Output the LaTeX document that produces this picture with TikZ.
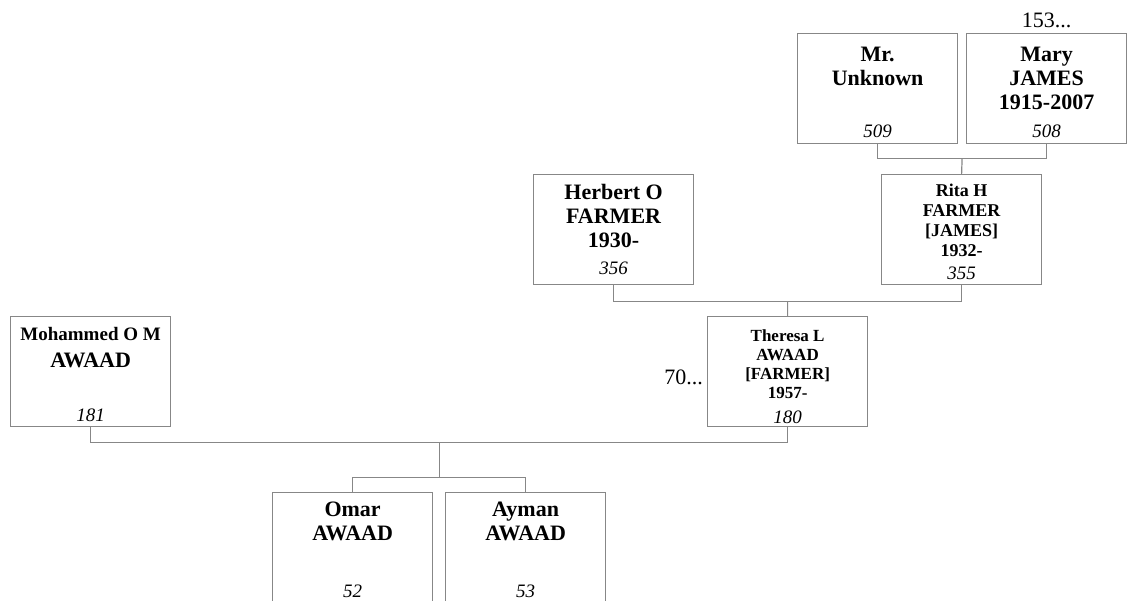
\documentclass[tikz,border=0pt]{standalone}
\usepackage{fontspec}
\setmainfont{Liberation Serif}
\usetikzlibrary{positioning, calc}
\definecolor{cLine}{RGB}{135,135,135}
\tikzset{
  personbox/.style={rectangle, draw=cLine, line width=1.2pt,
                    minimum width=160pt, minimum height=110pt,
                    anchor=north west, inner sep=0pt},
  namenode/.style={align=center, inner sep=0pt,
                   font=\bfseries\fontsize{22}{24}\selectfont},
  smallname/.style={namenode, font=\bfseries\fontsize{18}{20}\selectfont},
  tinyname/.style={namenode, font=\bfseries\fontsize{17}{19}\selectfont},
  idnode/.style={inner sep=0pt, font=\itshape\fontsize{19}{21}\selectfont},
  morenode/.style={inner sep=0pt, font=\fontsize{22}{24}\selectfont},
  link/.style={draw=cLine, line width=1.2pt}
}

\begin{document}
\begin{tikzpicture}[x=1pt, y=1pt]
  \useasboundingbox (0,0) rectangle (1132,-600);

  % Person boxes
  \node[personbox] (unknown) at (797,-33) {};
  \node[personbox] (mary)    at (966,-33) {};
  \node[personbox] (herbert) at (533,-174) {};
  \node[personbox] (rita)    at (881,-174) {};
  \node[personbox] (mohammed) at (10,-316) {};
  \node[personbox] (theresa) at (707,-316) {};
  \node[personbox] (omar)    at (272,-492) {};
  \node[personbox] (ayman)   at (445,-492) {};

  % Names
  \node[namenode, below=14pt of unknown.north] (unknownN) {Mr.\\Unknown};
  \node[namenode, below=14pt of mary.north] (maryN) {Mary\\JAMES\\1915-2007};
  \node[namenode, below=10pt of herbert.north] (herbertN) {Herbert O\\FARMER\\1930-};
  \node[smallname, below=10pt of rita.north] (ritaN) {Rita H\\FARMER\\{[JAMES]}\\1932-};
  \node[namenode, below=11pt of mohammed.north] (mohammedN)
      {{\fontsize{19}{21}\selectfont Mohammed O M}\\[3pt]AWAAD};
  \node[tinyname, below=13pt of theresa.north] (theresaN) {Theresa L\\AWAAD\\{[FARMER]}\\1957-};
  \node[namenode, below=10pt of omar.north] (omarN) {Omar\\AWAAD};
  \node[namenode, below=10pt of ayman.north] (aymanN) {Ayman\\AWAAD};

  % Reference numbers
  \foreach \who/\num/\gap in {unknown/509/6, mary/508/6, herbert/356/10,
                              rita/355/5, mohammed/181/5, theresa/180/3,
                              omar/52/5, ayman/53/5}
    \node[idnode, above=\gap pt of \who.south] (\who Id) {\num};

  % Continuation marks
  \node[morenode, above=5pt of mary.north] (maryMore) {153...};
  \node[morenode, left=4pt of theresa.west, yshift=-6pt] (theresaMore) {70...};

  % Family links
  \draw[link] (unknown.south) -- ++(0,-14) coordinate (barA) -| (mary.south);
  \coordinate (stemA) at ($(unknown.south)!0.5!(mary.south)+(0,-14)$);
  \draw[link] (stemA) -- (rita.north);

  \draw[link] (herbert.south) -- ++(0,-16) -| (rita.south);
  \coordinate (stemB) at ($(herbert.south)!0.5!(rita.south)+(0,-16)$);
  \draw[link] (stemB) -- (theresa.north);

  \draw[link] (mohammed.south) -- ++(0,-15) -| (theresa.south);
  \coordinate (stemC) at ($(mohammed.south)!0.5!(theresa.south)+(0,-15)$);
  \draw[link] (stemC) -- ++(0,-35) coordinate (kids);
  \draw[link] (omar.north) |- (kids) -| (ayman.north);
\end{tikzpicture}
\end{document}
